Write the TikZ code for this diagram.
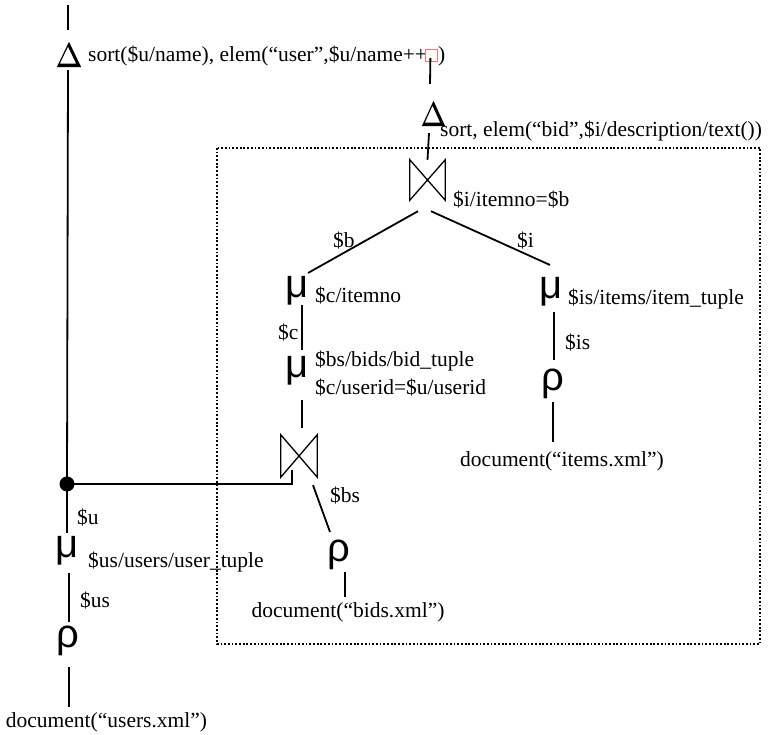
\documentclass[tikz,border=0pt]{standalone}
\usepackage{fontspec}
\setmainfont{Liberation Serif}
\newfontfamily\opfont{Liberation Sans}
\usetikzlibrary{calc}
\tikzset{
  lbl/.style={font=\fontsize{21.5}{25}\selectfont, inner sep=0pt, anchor=base west},
  doc/.style={font=\fontsize{21.5}{25}\selectfont, inner sep=0pt, anchor=base},
  greek/.style={font=\opfont\fontsize{40}{42}\selectfont, inner sep=0pt, anchor=base},
  deltabox/.style={minimum width=24pt, minimum height=25pt, inner sep=0pt},
  wire/.style={line width=1.8pt},
  bowtie/.style={minimum width=36pt, minimum height=42pt, inner sep=0pt},
  bowline/.style={line width=1.3pt, line join=miter},
  frame/.style={line width=1.6pt, dash pattern=on 1.8pt off 1.9pt},
  dot/.style={circle, fill, inner sep=0pt, minimum size=15pt},
  missing/.style={draw=red!55, line width=0.8pt, minimum width=12pt, minimum height=12pt, inner sep=0pt},
}
% serif-style Delta: thin left stroke, heavy right stroke and base
\newcommand\deltaglyph[1]{%
  \fill[even odd rule] (#1.north) -- (#1.south west) -- (#1.south east) -- cycle
    ($(#1.north)+(-1,-4.9)$) -- ($(#1.south west)+(3,3.5)$) -- ($(#1.south east)+(-5,3.5)$) -- cycle;}
\begin{document}
\begin{tikzpicture}[x=1pt,y=1pt]
\useasboundingbox (0,0) rectangle (770,735);

% dotted frame around the bids/items sub-plan
\draw[frame] (217,587) rectangle (760,91);

% outer construction operator
\coordinate (in) at (68,730);
\node[deltabox] (d1) at (69,680.5) {};
\node[lbl] (t1) at (88,673) {sort(\$u/name), elem(“user”,\$u/name++};
\node[missing, anchor=south west] (rb) at (425,673) {};
\node[lbl] (t1b) at (438,673) {)};

% inner construction operator
\node[deltabox, minimum width=23pt] (d2) at (433.5,621.5) {};
\node[lbl] (t2) at (440,598) {sort, elem(“bid”,\$i/description/text())};

% join of bids and items
\node[bowtie, minimum width=35pt, minimum height=40pt] (j1) at (427.5,555) {};
\node[lbl] at (453,528) {\$i/itemno=\$b};
\node[lbl] at (333,487) {\$b};
\node[lbl] at (517,487) {\$i};

% bids branch
\node[greek] (m1) at (297.5,437) {μ};
\node[lbl] at (315,432) {\$c/itemno};
\node[lbl] at (278,395) {\$c};
\node[greek] (m2) at (297.5,357) {μ};
\node[lbl] at (315,368) {\$bs/bids/bid\_tuple};
\node[lbl] at (315,340) {\$c/userid=\$u/userid};
\node[bowtie] (j2) at (299,279) {};
\node[lbl] at (330,232) {\$bs};
\node[greek] (r2) at (339,173) {ρ};
\node[doc] (doc2) at (348,117) {document(“bids.xml”)};

% items branch
\node[greek] (m3) at (551.5,436) {μ};
\node[lbl] at (568,430) {\$is/items/item\_tuple};
\node[lbl] at (565,385) {\$is};
\node[greek] (r3) at (552.5,344) {ρ};
\node[doc] (doc3) at (562,268) {document(“items.xml”)};

% users branch
\node[dot] (u) at (67,251) {};
\node[lbl] at (77,210) {\$u};
\node[greek] (m4) at (67.5,177) {μ};
\node[lbl] at (88,167) {\$us/users/user\_tuple};
\node[lbl] at (80,127) {\$us};
\node[greek] (r4) at (67.5,87) {ρ};
\node[doc] (doc4) at (106.5,7) {document(“users.xml”)};

% operator symbols
\deltaglyph{d1}
\deltaglyph{d2}
\foreach \j in {j1,j2}
  \draw[bowline] (\j.north west) -- (\j.south west) -- (\j.north east) -- (\j.south east) -- cycle;

% connectors
\draw[wire] (in) -- ($(d1.north)+(-1,12)$);
\draw[wire] ($(d1.south)+(-1,-3)$) -- (u.center);
\draw[wire] ($(rb.south)+(-1,4)$) -- ($(d2.north)+(-3.5,17)$);
\draw[wire] ($(d2.south)+(-4.5,-7)$) -- (j1.north);
\draw[wire] ($(j1.south)+(-9.5,-11)$) -- ($(m1.base)+(10.5,25)$);
\draw[wire] ($(j1.south)+(3.5,-11)$) -- ($(m3.base)+(-1.5,34)$);
\draw[wire] ($(m1.base)+(4.5,-7)$) -- ($(m2.base)+(4.5,28)$);
\draw[wire] ($(m2.base)+(4.5,-22)$) -- ($(j2.north)+(3,7)$);
\draw[wire] (u.center) -| ($(j2.south)+(-7,7)$);
\draw[wire] ($(j2.south)+(14,-8)$) -- ($(r2.base)+(-9,30)$);
\draw[wire] ($(r2.base)+(6,-10)$) -- ($(doc2.base)+(-3,21)$);
\draw[wire] ($(m3.base)+(2.5,-13)$) -- ($(r3.base)+(1.5,31)$);
\draw[wire] ($(r3.base)+(0.5,-11)$) -- ($(doc3.base)+(-9,25)$);
\draw[wire] (u.center) -- ($(m4.base)+(-0.5,25)$);
\draw[wire] ($(m4.base)+(1.5,-15)$) -- ($(r4.base)+(1.5,26)$);
\draw[wire] ($(r4.base)+(1.5,-19)$) -- ($(doc4.base)+(-37.5,21)$);
\end{tikzpicture}
\end{document}
